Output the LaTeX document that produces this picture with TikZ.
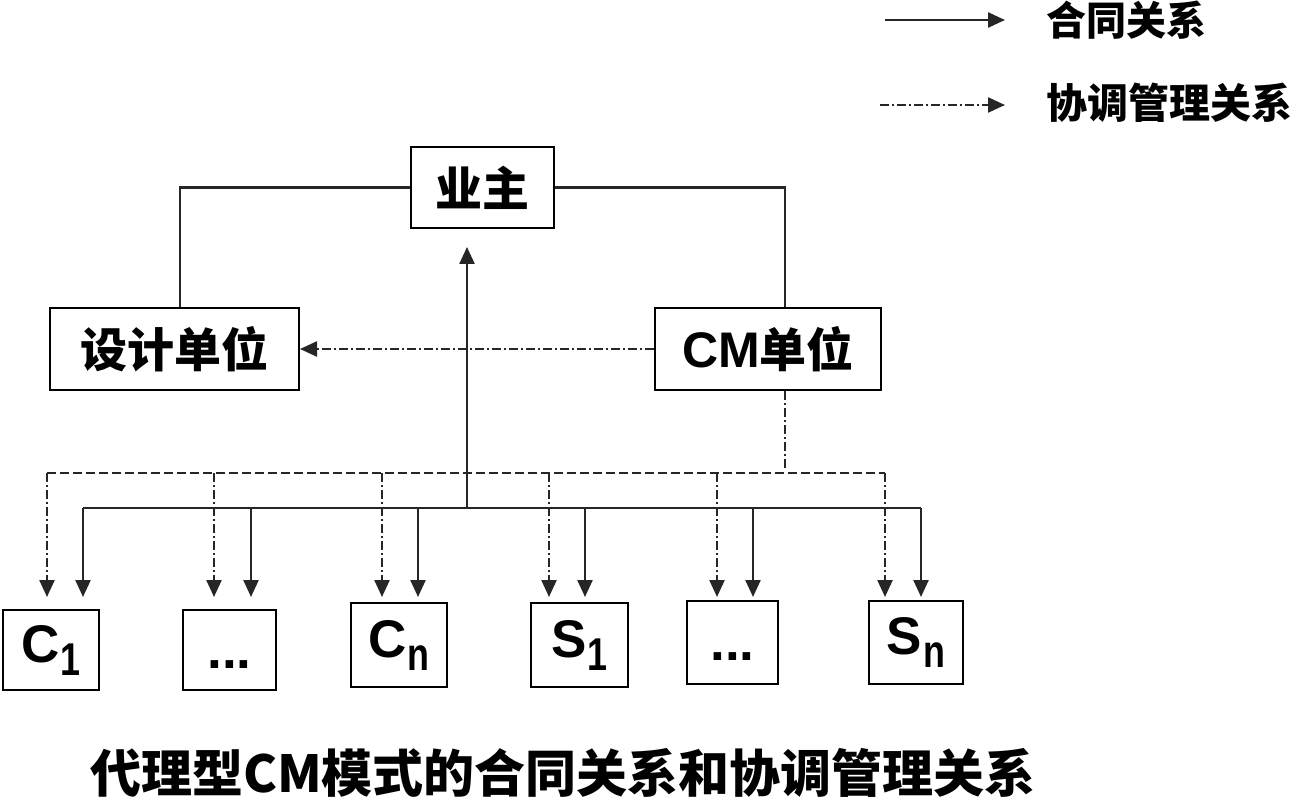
\documentclass[tikz,border=0pt]{standalone}
\usepackage{fontspec}
\usepackage{graphicx}
\setmainfont{Liberation Sans}
\newfontfamily\cjk{Noto Sans CJK SC}
\usetikzlibrary{arrows.meta}
\tikzset{
  box/.style={draw=black, line width=2pt, inner sep=0pt, align=center},
  conn/.style={line width=2.4pt, draw=black!85},
  coord/.style={conn, dash pattern=on 9pt off 3pt on 2pt off 3pt},
  busd/.style={conn, dash pattern=on 9pt off 4pt},
  tip/.style={-{Triangle[length=17pt,width=15pt]}},
  big/.style={font=\fontsize{47}{47}\selectfont\cjk\bfseries},
  lat/.style={font=\fontsize{53}{53}\selectfont\bfseries},
}
\newcommand{\subl}[2]{#1\kern1pt\raisebox{-13pt}{\fontsize{46}{46}\selectfont\scalebox{0.78}[1]{#2}}}
\begin{document}
\begin{tikzpicture}[x=1pt,y=-1pt]
\useasboundingbox (0,0) rectangle (1299,805);
% boxes
\node[box,big,minimum width=143pt,minimum height=81pt] (owner) at (482.5,187.5) {业主};
\node[box,big,minimum width=249pt,minimum height=82pt] (design) at (174.5,349) {设计单位};
\node[box,minimum width=226pt,minimum height=82pt] (cm) at (768,349) {{\fontsize{50}{50}\selectfont\bfseries CM}{\fontsize{47}{47}\selectfont\cjk\bfseries 单位}};
\node[box,lat,minimum width=96pt,minimum height=80pt] (c1) at (51,650) {\subl{C}{1}};
\node[box,lat,minimum width=93pt,minimum height=80pt] (d1) at (229.5,650) {\vphantom{C}...};
\node[box,lat,minimum width=96pt,minimum height=84pt] (cn) at (399,645) {\subl{C}{n}};
\node[box,lat,minimum width=97pt,minimum height=84pt] (s1) at (579.5,645) {\subl{S}{1}};
\node[box,lat,minimum width=91pt,minimum height=83pt] (d2) at (732.5,642.5) {\vphantom{C}...};
\node[box,lat,minimum width=94pt,minimum height=83pt] (sn) at (916,642.5) {\subl{S}{n}};
% owner to design / cm
\draw[conn] (owner.west) -| (design.north -| 180,0);
\draw[conn] (owner.east) -| (cm.north -| 785,0);
% coordination cm -> design
\draw[coord,tip] (cm.west) -- (design.east);
% solid bus
\coordinate (top) at (467,508);
\coordinate (b1) at (83,508);
\coordinate (b2) at (251,508);
\coordinate (b3) at (418,508);
\coordinate (b4) at (585,508);
\coordinate (b5) at (753,508);
\coordinate (b6) at (921,508);
\draw[conn] (b1) -- (b6);
\draw[conn,tip,shorten >=18pt] (top) -- (top |- owner.south);
\foreach \b/\n/\s in {b1/c1/12,b2/d1/12,b3/cn/5,b4/s1/5,b5/d2/3,b6/sn/3}
  \draw[conn,tip,shorten >=\s pt] (\b) -- (\b |- \n.north);
% dashed bus
\coordinate (cmd) at (785,470);
\coordinate (e1) at (47,473);
\coordinate (e2) at (214,473);
\coordinate (e3) at (382,473);
\coordinate (e4) at (549,473);
\coordinate (e5) at (717,473);
\coordinate (e6) at (885,473);
\draw[coord] (cm.south -| cmd) -- (cmd);
\draw[busd] (e1) -- (e6);
\foreach \e/\n/\s in {e1/c1/12,e2/d1/12,e3/cn/5,e4/s1/5,e5/d2/3,e6/sn/3}
  \draw[coord,tip,shorten >=\s pt] (\e) -- (\e |- \n.north);
% legend
\coordinate (l1s) at (885,20);
\coordinate (l1e) at (1005,20);
\coordinate (l2s) at (880,105);
\coordinate (l2e) at (1005,105);
\draw[conn,tip] (l1s) -- (l1e);
\draw[coord,tip] (l2s) -- (l2e);
\node[anchor=west,inner sep=0pt,font=\fontsize{40}{40}\selectfont\cjk\bfseries] (t1) at (1046,20) {合同关系};
\node[anchor=west,inner sep=0pt,font=\fontsize{41}{41}\selectfont\cjk\bfseries] (t2) at (1046,103) {协调管理关系};
% caption
\node[inner sep=0pt,font=\fontsize{51}{51}\selectfont\cjk\bfseries] (cap) at (563,773) {代理型CM模式的合同关系和协调管理关系};
\end{tikzpicture}
\end{document}
